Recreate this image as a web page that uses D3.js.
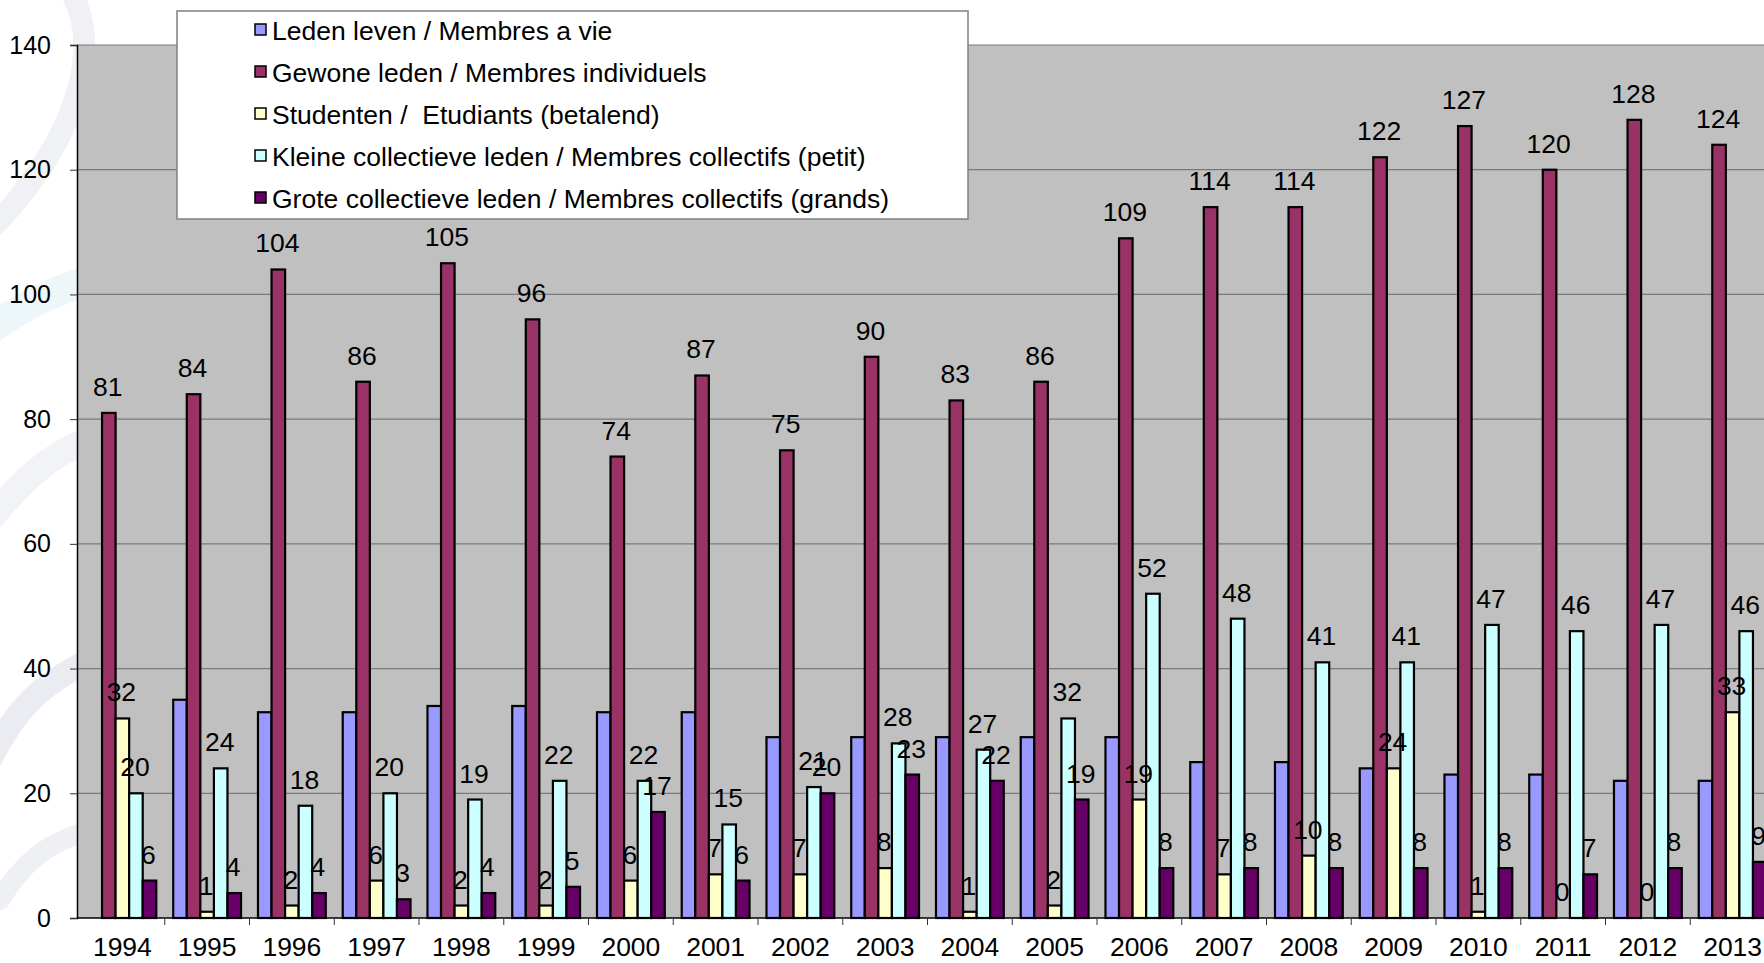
<!DOCTYPE html>
<html>
<head>
<meta charset="utf-8">
<script src="https://cdn.jsdelivr.net/npm/d3@7"></script>
<style>
  body { margin: 0; background: #fff; }
  text { font-family: "Liberation Sans", Arial, sans-serif; }
</style>
</head>
<body>
<script>
// jaren en reeksen
const years = ['1994','1995','1996','1997','1998','1999','2000','2001','2002','2003',
               '2004','2005','2006','2007','2008','2009','2010','2011','2012','2013'];
const seriesNames = [
  'Leden leven / Membres a vie',
  'Gewone leden / Membres individuels',
  'Studenten /  Etudiants (betalend)',
  'Kleine collectieve leden / Membres collectifs (petit)',
  'Grote collectieve leden / Membres collectifs (grands)'
];
const ledenLeven       = [null,35,33,33,34,34,33,33,29,29,29,29,29,25,25,24,23,23,22,22];
const gewoneLeden      = [81,84,104,86,105,96,74,87,75,90,83,86,109,114,114,122,127,120,128,124];
const studenten        = [32,1,2,6,2,2,6,7,7,8,1,2,19,7,10,24,1,0,0,33];
const kleineCollectief = [20,24,18,20,19,22,22,15,21,28,27,32,52,48,41,41,47,46,47,46];
const groteCollectief  = [6,4,4,3,4,5,17,6,20,23,22,19,8,8,8,8,8,7,8,9];
const yTicks = [0,20,40,60,80,100,120,140];

const colors = ['#9999ff','#993366','#ffffcc','#ccffff','#660066'];
const showLabels = [false,true,true,true,true];
const allSeries = [ledenLeven, gewoneLeden, studenten, kleineCollectief, groteCollectief];

const W = 1764, H = 963;
const pLeft = 77, pTop = 45, pBottom = 918, pRight = 1775;
const fs = 26.5;

const svg = d3.select('body').append('svg')
    .attr('width', W)
    .attr('height', H)
    .attr('viewBox', `0 0 ${W} ${H}`);

// vage achtergrond (watermerk links)
const wm = svg.append('g').attr('fill','none').attr('stroke-linecap','round').attr('opacity',0.45);
wm.append('path').attr('d','M70,-10 C110,60 60,160 -10,230').attr('stroke','#dde1e8').attr('stroke-width',22);
wm.append('path').attr('d','M-10,330 C30,300 60,290 90,280').attr('stroke','#d8ecf3').attr('stroke-width',30);
wm.append('path').attr('d','M-10,520 C30,470 60,450 90,440').attr('stroke','#e3e6ec').attr('stroke-width',26);
wm.append('path').attr('d','M-10,760 C20,700 50,680 90,660').attr('stroke','#d2d7e2').attr('stroke-width',24);
wm.append('path').attr('d','M0,900 C30,850 60,840 90,830').attr('stroke','#dadee6').attr('stroke-width',20);

const x0 = d3.scaleBand().domain(years).range([pLeft + 3, pRight]).padding(0);
const bw = x0.bandwidth();
const x1 = d3.scaleBand().domain(d3.range(seriesNames.length)).range([bw*0.1, bw*0.9]).padding(0);
const y = d3.scaleLinear().domain([0,140]).range([pBottom, pTop]);

// plotgebied
svg.append('rect')
    .attr('x', pLeft).attr('y', pTop)
    .attr('width', pRight - pLeft).attr('height', pBottom - pTop)
    .attr('fill', '#c0c0c0');

// rasterlijnen
svg.append('g').selectAll('line')
    .data(yTicks.filter(d => d > 0))
    .join('line')
    .attr('x1', pLeft).attr('x2', pRight)
    .attr('y1', d => y(d)).attr('y2', d => y(d))
    .attr('stroke', '#7a7a7a').attr('stroke-width', 1.2);

// y-as
const yAxis = svg.append('g')
    .attr('transform', `translate(${pLeft},0)`)
    .call(d3.axisLeft(y).tickValues(yTicks).tickSize(7).tickPadding(19));
yAxis.select('.domain').attr('stroke', '#000').attr('stroke-width', 1.5);
yAxis.selectAll('.tick line').attr('stroke', '#333');
yAxis.selectAll('text').attr('font-size', 25).attr('fill', '#000')
    .attr('font-family', '"Liberation Sans", Arial, sans-serif');

// staven
const groups = svg.append('g').selectAll('g')
    .data(years)
    .join('g')
    .attr('transform', d => `translate(${x0(d)},0)`);

groups.selectAll('rect')
    .data((yr, i) => allSeries.map((s, k) => ({k, v: s[i]})).filter(d => d.v !== null))
    .join('rect')
    .attr('x', d => x1(d.k))
    .attr('width', x1.bandwidth())
    .attr('y', d => y(d.v))
    .attr('height', d => y(0) - y(d.v))
    .attr('fill', d => colors[d.k])
    .attr('stroke', '#000')
    .attr('stroke-width', 2.2);

// labels boven de staven
groups.selectAll('text')
    .data((yr, i) => allSeries.map((s, k) => ({k, v: s[i]})).filter(d => d.v !== null && showLabels[d.k]))
    .join('text')
    .attr('x', d => x1(d.k) + x1.bandwidth()/2 - 1)
    .attr('y', d => y(d.v) - 17)
    .attr('text-anchor', 'middle')
    .attr('font-size', fs)
    .attr('fill', '#000')
    .text(d => d.v);

// x-as
svg.append('line')
    .attr('x1', pLeft).attr('x2', pRight)
    .attr('y1', pBottom).attr('y2', pBottom)
    .attr('stroke', '#000').attr('stroke-width', 1.5);
svg.append('g').selectAll('line')
    .data(years.slice(1))
    .join('line')
    .attr('x1', d => x0(d)).attr('x2', d => x0(d))
    .attr('y1', pBottom).attr('y2', pBottom + 7)
    .attr('stroke', '#333');
svg.append('g').selectAll('text')
    .data(years)
    .join('text')
    .attr('x', d => x0(d) + bw/2)
    .attr('y', 956)
    .attr('text-anchor', 'middle')
    .attr('font-size', fs)
    .text(d => d);

// legende
const lg = svg.append('g');
lg.append('rect')
    .attr('x', 177).attr('y', 11)
    .attr('width', 791).attr('height', 208)
    .attr('fill', '#fff').attr('stroke', '#808080').attr('stroke-width', 1.5);
const items = lg.selectAll('g.item')
    .data(seriesNames)
    .join('g')
    .attr('class', 'item')
    .attr('transform', (d, i) => `translate(255,${30 + i*42})`);
items.append('rect')
    .attr('x', 0).attr('y', -6)
    .attr('width', 11).attr('height', 11)
    .attr('fill', (d, i) => colors[i])
    .attr('stroke', '#000').attr('stroke-width', 1.5);
items.append('text')
    .attr('x', 17).attr('y', 10)
    .attr('font-size', fs)
    .attr('xml:space', 'preserve')
    .style('white-space', 'pre')
    .text(d => d);
</script>
</body>
</html>
